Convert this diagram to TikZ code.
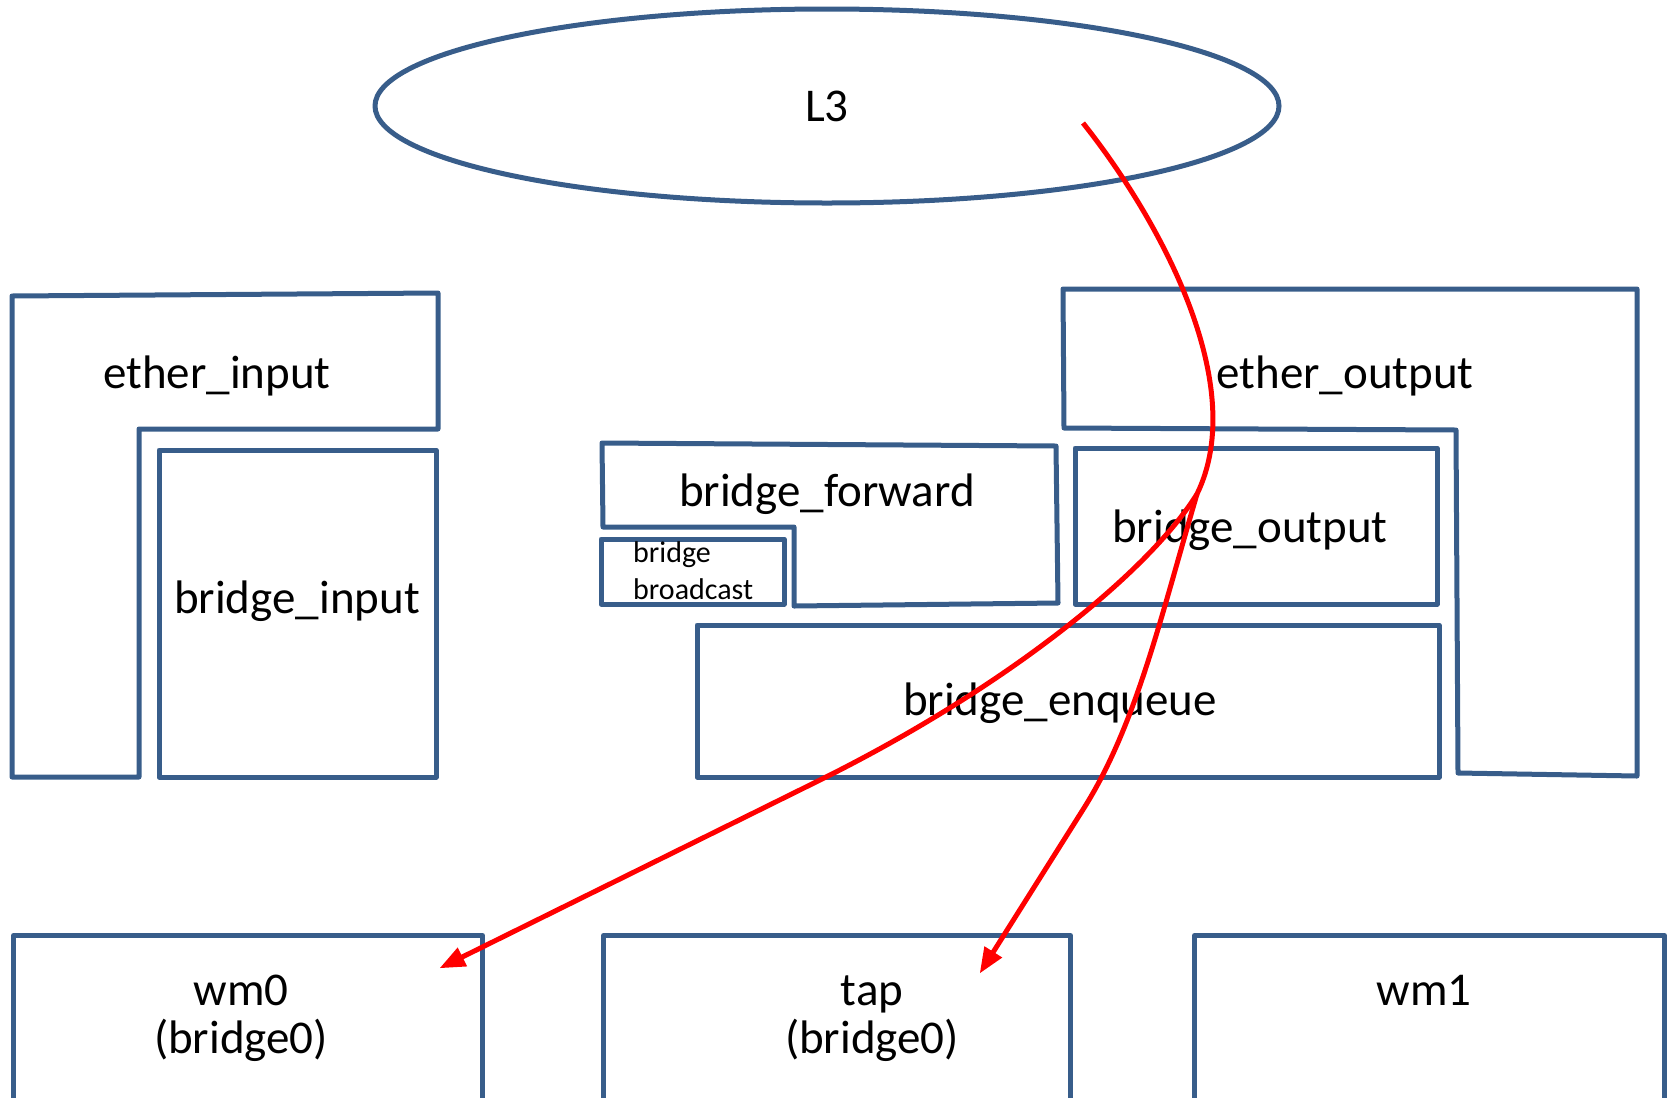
\documentclass[tikz,border=0pt]{standalone}
\usepackage{fontspec}
\setmainfont{Carlito}
\usetikzlibrary{arrows,shapes.geometric}
\definecolor{boxblue}{HTML}{385D8A}

\begin{document}
\begin{tikzpicture}[x=1bp,y=-1bp,>=triangle 45,line join=round,
  font=\fontsize{47bp}{48bp}\selectfont,
  box/.style={draw=boxblue,line width=5bp,inner sep=0pt},
  lbl/.style={inner sep=0pt,anchor=base,align=center},
  flow/.style={draw=red,line width=5bp,->}]
\useasboundingbox (0,0) rectangle (1667,1097);

% top layer
\node[box,ellipse,minimum width=904bp,minimum height=194bp] (L3) at (827,106) {L3};

% input side
\draw[box] (12,296) -- (438,293) -- (438,429) -- (139,429) -- (139,777) -- (12,777) -- cycle;
\node[lbl] (einput) at (217,388) {ether\_input};
\draw[box] (159,450) rectangle (436,777);
\node[lbl] (binput) at (297,613) {bridge\_input};

% forwarding
\draw[box] (602,443) -- (1056,446) -- (1058,603) -- (794,606) -- (794,527) -- (603,527) -- cycle;
\node[lbl] (bforward) at (827,506) {bridge\_forward};
\draw[box] (601,539) rectangle (784,604);
\node[lbl,anchor=base west,align=left,font=\fontsize{30bp}{37bp}\selectfont] (bbcast) at (633,599) {bridge\\broadcast};

% output side
\draw[box] (1063,289) -- (1637,289) -- (1637,776) -- (1458,773) -- (1456,430) -- (1064,428) -- cycle;
\node[lbl] (eoutput) at (1345,388) {ether\_output};
\draw[box] (1075,448) rectangle (1437,604);
\node[lbl] (boutput) at (1250,542) {bridge\_output};
\draw[box] (697,625) rectangle (1439,777);
\node[lbl] (benqueue) at (1060,715) {bridge\_enqueue};

% interfaces
\node[box,anchor=north west,minimum width=469bp,minimum height=167bp] (wm0) at (11,933) {};
\node[box,anchor=north west,minimum width=467bp,minimum height=167bp] (tap) at (601,933) {};
\node[box,anchor=north west,minimum width=470bp,minimum height=167bp] (wm1) at (1192,933) {};
\node[lbl] (wm0 text) at (241,1053) {wm0\\(bridge0)};
\node[lbl] (tap text) at (872,1053) {tap\\(bridge0)};
\node[lbl] (wm1 text) at (1424,1005) {wm1};

% packet path
\coordinate (l3out) at (1083,123);
\coordinate (split) at (1197,494);
\coordinate (wm0in) at (440,968);
\coordinate (tapin) at (980,973);
\draw[flow] (l3out) .. controls (1160,220) and (1250,385) .. (split)
  .. controls (1150,570) and (1010,686) .. (818,781) -- (wm0in);
\draw[flow] (split) .. controls (1160,620) and (1136,725) .. (1084,808) -- (tapin);

\end{tikzpicture}
\end{document}
